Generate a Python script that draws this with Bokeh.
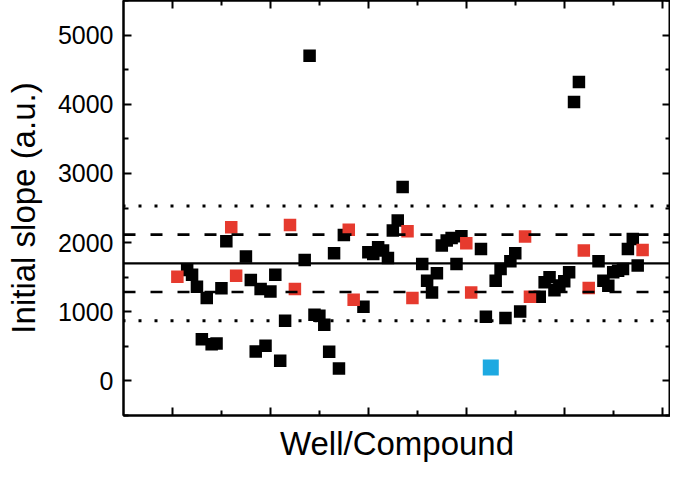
from bokeh.plotting import figure
from bokeh.models import LinearAxis, FixedTicker, SingleIntervalTicker, Range1d, Span, ColumnDataSource
from bokeh.embed import file_html
from bokeh.resources import INLINE

# ---- data ----
black_wells = [13, 14, 15, 16, 17, 18, 19, 20, 21,
               25, 26, 27, 28, 29, 30, 31, 32, 33,
               37, 38, 39, 40, 41, 42, 43, 44, 45,
               49, 50, 51, 52, 53, 54, 55, 56, 57,
               61, 62, 63, 64, 65, 66, 67, 68, 69,
               73, 74, 76, 77, 78, 79, 80, 81,
               85, 86, 87, 88, 89, 90, 91, 92, 93,
               97, 98, 99, 100, 101, 102, 103, 104, 105]
black_slopes = [1604, 1536, 1362, 604, 1198, 531, 541, 1338, 2019,
                1797, 1459, 425, 1329, 507, 1294, 1536, 290, 870,
                1749, 4700, 957, 942, 812, 420, 1845, 179, 2111,
                1072, 1860, 1835, 1932, 1884, 1778, 2174, 2319, 2802,
                1691, 1449, 1280, 1556, 1957, 2029, 2068, 1691, 2092,
                1908, 928, 1449, 1618, 908, 1729, 1845, 1005,
                1217, 1425, 1500, 1310, 1380, 1440, 1570, 4033, 4323,
                1729, 1449, 1377, 1570, 1594, 1618, 1908, 2053, 1667]

red_wells = [11, 22, 23, 34, 35, 46, 47, 58, 59, 70, 71, 82, 83, 94, 95, 106]
red_slopes = [1507, 2222, 1522, 2256, 1329, 2184, 1174, 2164, 1198, 1990, 1280,
              2087, 1217, 1884, 1343, 1894]

blue_wells = [75]
blue_slopes = [193]

mean_slope = 1700
sd_slope = 415

y_ticks = [0, 1000, 2000, 3000, 4000, 5000]
y_minor_ticks = [-500, 500, 1500, 2500, 3500, 4500, 5500]
x_major_ticks = [10, 30, 50, 70, 90, 110]
x_minor_ticks = [20, 40, 60, 80, 100]

FONT = "Liberation Sans"

p = figure(width=670, height=464, output_backend="svg", toolbar_location=None,
           x_range=Range1d(0, 111.7), y_range=Range1d(-500, 5500),
           min_border_left=123, min_border_right=0, min_border_top=0, min_border_bottom=49)

p.grid.visible = False
p.outline_line_color = "black"
p.outline_line_width = 2
p.background_fill_color = "white"
p.border_fill_color = "white"

# reference lines
p.add_layout(Span(location=mean_slope, dimension="width", line_color="black", line_width=2.2))
for k in (1, -1):
    p.add_layout(Span(location=mean_slope + k * sd_slope, dimension="width", line_color="black",
                      line_width=2.6, line_dash="12 15"))
    p.add_layout(Span(location=mean_slope + k * 2 * sd_slope, dimension="width", line_color="black",
                      line_width=3, line_dash="3 13", line_dash_offset=1))

src_b = ColumnDataSource(dict(x=black_wells, y=black_slopes))
src_r = ColumnDataSource(dict(x=red_wells, y=red_slopes))
src_c = ColumnDataSource(dict(x=blue_wells, y=blue_slopes))
p.scatter("x", "y", source=src_b, marker="square", size=12.5, fill_color="black", line_color="black", line_width=0)
p.scatter("x", "y", source=src_r, marker="square", size=12.5, fill_color="#E63A2E", line_color="#E63A2E", line_width=0)
p.scatter("x", "y", source=src_c, marker="square", size=16, fill_color="#1DA9E1", line_color="#1DA9E1", line_width=0)


def style_axis(ax, ticker, show_labels):
    ax.ticker = ticker
    ax.axis_line_color = "black"
    ax.axis_line_width = 2
    ax.major_tick_in = 8
    ax.major_tick_out = 0
    ax.minor_tick_in = 5
    ax.minor_tick_out = 0
    ax.major_tick_line_width = 2
    ax.minor_tick_line_width = 2
    ax.major_tick_line_color = "black"
    ax.minor_tick_line_color = "black"
    if not show_labels:
        ax.major_label_overrides = {t: "" for t in ticker.ticks}
        ax.major_label_text_font_size = "0px"
        ax.major_label_standoff = 0
        ax.axis_label_standoff = 0

style_axis(p.yaxis[0], FixedTicker(ticks=y_ticks, minor_ticks=y_minor_ticks), True)
p.yaxis[0].major_label_text_font = FONT
p.yaxis[0].major_label_text_font_size = "25px"
p.yaxis[0].major_label_text_color = "black"
p.yaxis[0].major_label_standoff = 10
p.yaxis[0].axis_label = "Initial slope (a.u.)"
p.yaxis[0].axis_label_text_font = FONT
p.yaxis[0].axis_label_text_font_size = "33px"
p.yaxis[0].axis_label_text_font_style = "normal"
p.yaxis[0].axis_label_text_color = "black"
p.yaxis[0].axis_label_standoff = 13

style_axis(p.xaxis[0], FixedTicker(ticks=x_major_ticks, minor_ticks=x_minor_ticks), False)
p.xaxis[0].axis_label = "Well/Compound"
p.xaxis[0].axis_label_text_font = FONT
p.xaxis[0].axis_label_text_font_size = "33px"
p.xaxis[0].axis_label_text_font_style = "normal"
p.xaxis[0].axis_label_text_color = "black"
p.xaxis[0].axis_label_standoff = 9

right = LinearAxis()
style_axis(right, FixedTicker(ticks=y_ticks, minor_ticks=y_minor_ticks), False)
p.add_layout(right, "right")
top = LinearAxis()
style_axis(top, FixedTicker(ticks=x_major_ticks, minor_ticks=x_minor_ticks), False)
p.add_layout(top, "above")

open("out.html", "w").write(file_html(p, INLINE))
